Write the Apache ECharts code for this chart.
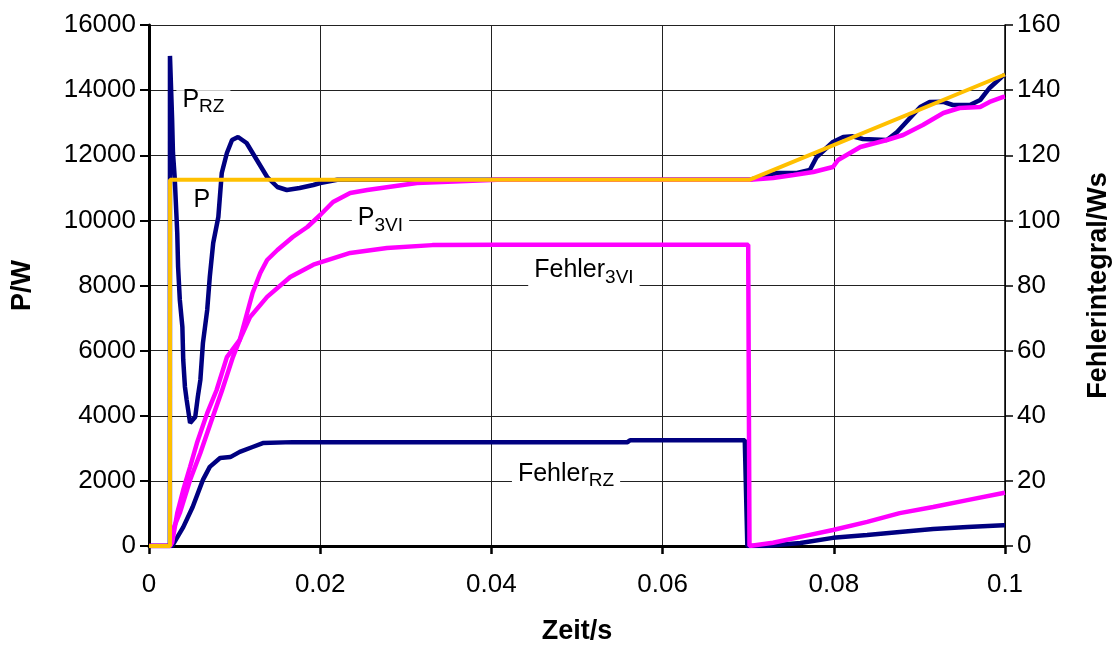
<!DOCTYPE html>
<html>
<head>
<meta charset="utf-8">
<script src="https://cdn.jsdelivr.net/npm/echarts@6/dist/echarts.min.js"></script>
<style>
html, body { margin: 0; padding: 0; background: #fff; }
#main { width: 1112px; height: 645px; }
</style>
</head>
<body>
<div id="main"></div>
<script>
// Zeit/s -> Wert, Leistung in W (linke Achse), Fehlerintegral in Ws (rechte Achse)
const pSoll = [[0, 0], [0.00245, 0], [0.00246, 11250], [0.0702, 11250], [0.1, 14480]];

const pRZ = [
  [0, 0], [0.00244, 0], [0.00245, 15050], [0.0027, 13100], [0.0028, 12070], [0.0030, 11330],
  [0.0033, 9612], [0.0034, 8568], [0.0036, 7555], [0.0039, 6725], [0.0040, 5712], [0.0042, 4883],
  [0.0044, 4484], [0.0048, 3777], [0.0054, 3962], [0.0057, 4576], [0.0060, 5098], [0.0063, 6234],
  [0.0068, 7248], [0.0071, 8261], [0.0075, 9305], [0.0081, 10104], [0.0085, 11455], [0.0091, 12069],
  [0.0097, 12468], [0.0104, 12560], [0.0114, 12376], [0.0126, 11854], [0.0138, 11332], [0.0150, 11025],
  [0.0161, 10933], [0.0176, 10995], [0.0192, 11087], [0.0200, 11148], [0.0220, 11250],
  [0.0702, 11250], [0.0734, 11455], [0.0757, 11455], [0.0772, 11547], [0.0780, 11946], [0.0799, 12407],
  [0.0811, 12560], [0.0822, 12580], [0.0834, 12499], [0.0862, 12468], [0.0874, 12714], [0.0889, 13144],
  [0.0901, 13482], [0.0912, 13636], [0.0928, 13640], [0.0939, 13543], [0.0959, 13543], [0.0971, 13697],
  [0.0982, 14066], [0.0996, 14404], [0.1, 14480]
];

const p3VI = [
  [0, 0], [0.00245, 0], [0.0028, 500], [0.0036, 1013], [0.0048, 2027], [0.0060, 2856], [0.0072, 3777],
  [0.0085, 4750], [0.0098, 5800], [0.0106, 6326], [0.0121, 7770], [0.0130, 8384], [0.0138, 8783],
  [0.0150, 9090], [0.0168, 9490], [0.0185, 9797], [0.0200, 10165], [0.0215, 10565], [0.0235, 10840],
  [0.0255, 10933], [0.0313, 11148], [0.0407, 11250], [0.0702, 11250], [0.0729, 11300], [0.0753, 11393],
  [0.0776, 11486], [0.0799, 11639], [0.0805, 11854], [0.0819, 12069], [0.0831, 12253], [0.0862, 12468],
  [0.0881, 12622], [0.0904, 12929], [0.0928, 13298], [0.0947, 13451], [0.0971, 13482], [0.0982, 13636],
  [0.0998, 13790], [0.1, 13800]
];

const fehler3VI = [
  [0, 0], [0.00245, 0], [0.0027, 1], [0.0033, 10.1], [0.0040, 17.2], [0.0048, 24.3], [0.0056, 31.6],
  [0.0068, 40.8], [0.0079, 47.9], [0.0091, 58.0], [0.0106, 63.3], [0.0118, 70.3], [0.0138, 76.5],
  [0.0165, 82.6], [0.0192, 86.4], [0.0235, 90], [0.0278, 91.5], [0.0331, 92.4], [0.0407, 92.5],
  [0.0700, 92.5], [0.07015, 0], [0.0729, 1], [0.0761, 2.8], [0.0799, 4.9], [0.0839, 7.4],
  [0.0877, 10.1], [0.0916, 12], [0.0956, 14.1], [0.0998, 16.3], [0.1, 16.4]
];

const fehlerRZ = [
  [0, 0], [0.0027, 0], [0.0029, 0.9], [0.0040, 5.8], [0.0051, 12], [0.0063, 20.3], [0.0071, 24.3],
  [0.0083, 27], [0.0095, 27.3], [0.0106, 28.9], [0.0121, 30.4], [0.0133, 31.6], [0.0168, 31.9],
  [0.0559, 31.9], [0.0562, 32.5], [0.0696, 32.5], [0.0699, 0], [0.0720, 0], [0.0761, 0.9],
  [0.0799, 2.5], [0.0839, 3.4], [0.0877, 4.3], [0.0916, 5.2], [0.0956, 5.8], [0.0998, 6.4], [0.1, 6.4]
];

const font = "'Liberation Sans', Arial, sans-serif";
let myChart = echarts.init(document.getElementById('main'));

function lineSeries(name, data, color, width, yIdx) {
  return {
    name: name,
    type: 'line',
    data: data,
    yAxisIndex: yIdx,
    showSymbol: false,
    symbol: 'none',
    animation: false,
    lineStyle: { color: color, width: width }
  };
}

let option = {
  backgroundColor: '#fff',
  animation: false,
  grid: { left: 149, right: 107, top: 25, bottom: 99, containLabel: false, outerBoundsMode: 'none' },
  xAxis: {
    type: 'value',
    min: 0,
    max: 0.1,
    interval: 0.02,
    name: 'Zeit/s',
    nameLocation: 'middle',
    nameGap: 72,
    nameTextStyle: { fontFamily: font, fontSize: 27, fontWeight: 'bold', color: '#000' },
    axisLine: { onZero: false, lineStyle: { color: '#000', width: 3 } },
    axisTick: { length: 8, lineStyle: { color: '#000', width: 2.5 } },
    axisLabel: { fontFamily: font, fontSize: 26, color: '#000', margin: 26 },
    splitLine: { show: true, lineStyle: { color: '#222', width: 1 } }
  },
  yAxis: [
    {
      type: 'value',
      min: 0,
      max: 16000,
      interval: 2000,
      name: 'P/W',
      nameLocation: 'middle',
      nameRotate: 90,
      nameGap: 113,
      nameTextStyle: { fontFamily: font, fontSize: 27, fontWeight: 'bold', color: '#000' },
      axisLine: { show: true, lineStyle: { color: '#000', width: 3 } },
      axisTick: { show: true, length: 9, lineStyle: { color: '#000', width: 2 } },
      axisLabel: { fontFamily: font, fontSize: 26, color: '#000', margin: 13, formatter: function (v) { return String(v); } },
      splitLine: { show: true, lineStyle: { color: '#222', width: 1 } }
    },
    {
      type: 'value',
      position: 'right',
      min: 0,
      max: 160,
      interval: 20,
      name: 'Fehlerintegral/Ws',
      nameLocation: 'middle',
      nameRotate: 90,
      nameGap: 80,
      nameTextStyle: { fontFamily: font, fontSize: 27, fontWeight: 'bold', color: '#000' },
      axisLine: { show: true, lineStyle: { color: '#000', width: 1.5 } },
      axisTick: { show: true, length: 8, lineStyle: { color: '#000', width: 1.5 } },
      axisLabel: { fontFamily: font, fontSize: 26, color: '#000', margin: 12, formatter: function (v) { return String(v); } },
      splitLine: { show: false }
    }
  ],
  series: [
    lineSeries('Fehler RZ', fehlerRZ, '#000080', 4.5, 1),
    lineSeries('P RZ', pRZ, '#000080', 4.5, 0),
    lineSeries('Fehler 3VI', fehler3VI, '#FF00FF', 4.5, 1),
    lineSeries('P 3VI', p3VI, '#FF00FF', 4.5, 0),
    lineSeries('P', pSoll, '#FFC000', 4, 0)
  ]
};
myChart.setOption(option);

// Beschriftungen an den Kurven (Ankerpunkt in Achsenwerten der linken Achse)
const rich = {
  m: { fontFamily: font, fontSize: 25, lineHeight: 26, color: '#000', verticalAlign: 'bottom', padding: [0, 0, 4, 0] },
  s: { fontFamily: font, fontSize: 19, lineHeight: 20, color: '#000', verticalAlign: 'bottom' }
};
const labels = [
  { text: '{m|P}{s|RZ}', at: [0.0032, 13600] },
  { text: '{m|P}', at: [0.0045, 10500] },
  { text: '{m|P}{s|3VI}', at: [0.0237, 9950] },
  { text: '{m|Fehler}{s|3VI}', at: [0.0443, 8350] },
  { text: '{m|Fehler}{s|RZ}', at: [0.0424, 2100] }
];
myChart.setOption({
  graphic: labels.map(function (l) {
    let p = myChart.convertToPixel({ gridIndex: 0 }, l.at);
    return {
      type: 'text',
      x: p[0],
      y: p[1],
      z: 1,
      style: {
        text: l.text,
        rich: rich,
        align: 'left',
        verticalAlign: 'middle',
        backgroundColor: '#fff',
        padding: [0, 6]
      }
    };
  })
});
</script>
</body>
</html>
